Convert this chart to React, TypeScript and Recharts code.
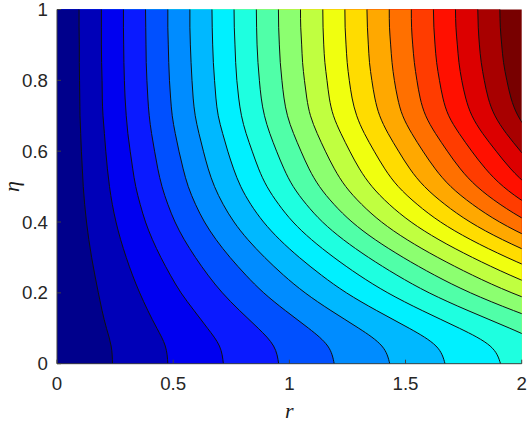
import { Area, AreaChart, CartesianGrid, XAxis, YAxis } from "recharts"

// eta position of each row below
const etaLevels = [0, 0.05, 0.1, 0.15, 0.2, 0.25, 0.3, 0.35, 0.4, 0.45, 0.5, 0.55, 0.6, 0.65, 0.7, 0.75, 0.8, 0.85, 0.9, 0.95, 1]

// r position of contours 1..20 at each eta (values past r = 2 run off the frame)
const rAt000 = [0.239, 0.477, 0.716, 0.954, 1.193, 1.432, 1.67, 1.909, 2.147, 2.386, 2.625, 2.863, 3.102, 3.34, 3.579, 3.818, 4.056, 4.295, 4.533, 4.772]
const rAt005 = [0.233, 0.466, 0.699, 0.932, 1.165, 1.398, 1.631, 1.864, 2.097, 2.33, 2.563, 2.796, 3.029, 3.262, 3.495, 3.728, 3.961, 4.194, 4.427, 4.66]
const rAt010 = [0.213, 0.43, 0.648, 0.866, 1.083, 1.299, 1.516, 1.732, 1.949, 2.165, 2.382, 2.598, 2.815, 3.031, 3.248, 3.464, 3.681, 3.897, 4.114, 4.33]
const rAt015 = [0.194, 0.391, 0.59, 0.786, 0.983, 1.179, 1.376, 1.572, 1.769, 1.965, 2.162, 2.358, 2.555, 2.751, 2.948, 3.144, 3.341, 3.537, 3.734, 3.93]
const rAt020 = [0.178, 0.356, 0.534, 0.712, 0.89, 1.068, 1.246, 1.424, 1.602, 1.78, 1.958, 2.136, 2.314, 2.492, 2.67, 2.848, 3.026, 3.204, 3.382, 3.56]
const rAt025 = [0.163, 0.325, 0.488, 0.65, 0.813, 0.975, 1.138, 1.3, 1.463, 1.625, 1.788, 1.95, 2.113, 2.275, 2.438, 2.6, 2.763, 2.925, 3.088, 3.25]
const rAt030 = [0.149, 0.298, 0.447, 0.596, 0.745, 0.894, 1.043, 1.192, 1.341, 1.49, 1.639, 1.788, 1.937, 2.086, 2.235, 2.384, 2.533, 2.682, 2.831, 2.98]
const rAt035 = [0.137, 0.274, 0.411, 0.548, 0.685, 0.822, 0.959, 1.096, 1.233, 1.37, 1.507, 1.644, 1.781, 1.918, 2.055, 2.192, 2.329, 2.466, 2.603, 2.74]
const rAt040 = [0.127, 0.254, 0.381, 0.508, 0.635, 0.762, 0.889, 1.016, 1.143, 1.27, 1.397, 1.524, 1.651, 1.778, 1.905, 2.032, 2.159, 2.286, 2.413, 2.54]
const rAt045 = [0.119, 0.238, 0.358, 0.477, 0.596, 0.715, 0.834, 0.954, 1.073, 1.192, 1.311, 1.43, 1.55, 1.669, 1.788, 1.907, 2.026, 2.146, 2.265, 2.384]
const rAt050 = [0.113, 0.226, 0.339, 0.452, 0.565, 0.678, 0.791, 0.904, 1.017, 1.13, 1.243, 1.356, 1.469, 1.582, 1.695, 1.808, 1.921, 2.034, 2.147, 2.26]
const rAt055 = [0.109, 0.217, 0.326, 0.434, 0.543, 0.651, 0.76, 0.868, 0.977, 1.085, 1.194, 1.302, 1.411, 1.519, 1.628, 1.736, 1.845, 1.953, 2.062, 2.17]
const rAt060 = [0.105, 0.21, 0.315, 0.42, 0.525, 0.63, 0.735, 0.84, 0.945, 1.05, 1.155, 1.26, 1.365, 1.47, 1.575, 1.68, 1.785, 1.89, 1.995, 2.1]
const rAt065 = [0.102, 0.204, 0.305, 0.407, 0.509, 0.611, 0.713, 0.814, 0.916, 1.018, 1.12, 1.222, 1.323, 1.425, 1.527, 1.629, 1.731, 1.832, 1.934, 2.036]
const rAt070 = [0.099, 0.198, 0.298, 0.397, 0.496, 0.595, 0.694, 0.794, 0.893, 0.992, 1.091, 1.19, 1.29, 1.389, 1.488, 1.587, 1.686, 1.786, 1.885, 1.984]
const rAt075 = [0.098, 0.195, 0.293, 0.391, 0.489, 0.586, 0.684, 0.782, 0.879, 0.977, 1.075, 1.172, 1.27, 1.368, 1.466, 1.563, 1.661, 1.759, 1.856, 1.954]
const rAt080 = [0.097, 0.194, 0.29, 0.387, 0.484, 0.581, 0.678, 0.774, 0.871, 0.968, 1.065, 1.162, 1.258, 1.355, 1.452, 1.549, 1.646, 1.742, 1.839, 1.936]
const rAt085 = [0.096, 0.192, 0.288, 0.384, 0.481, 0.577, 0.673, 0.769, 0.865, 0.961, 1.057, 1.153, 1.249, 1.345, 1.442, 1.538, 1.634, 1.73, 1.826, 1.922]
const rAt090 = [0.096, 0.191, 0.287, 0.383, 0.479, 0.574, 0.67, 0.766, 0.861, 0.957, 1.053, 1.148, 1.244, 1.34, 1.436, 1.531, 1.627, 1.723, 1.818, 1.914]
const rAt095 = [0.095, 0.191, 0.286, 0.382, 0.477, 0.572, 0.668, 0.763, 0.859, 0.954, 1.049, 1.145, 1.24, 1.336, 1.431, 1.526, 1.622, 1.717, 1.813, 1.908]
const rAt100 = [0.095, 0.191, 0.286, 0.381, 0.477, 0.572, 0.667, 0.762, 0.858, 0.953, 1.048, 1.144, 1.239, 1.334, 1.43, 1.525, 1.62, 1.715, 1.811, 1.906]

const rRows = [
  rAt000, rAt005, rAt010, rAt015, rAt020, rAt025, rAt030, rAt035, rAt040, rAt045, rAt050,
  rAt055, rAt060, rAt065, rAt070, rAt075, rAt080, rAt085, rAt090, rAt095, rAt100,
]

const rTicks = [0, 0.5, 1, 1.5, 2]
const etaTicks = [0, 0.2, 0.4, 0.6, 0.8, 1]

// band left of contour k, the last one is the band right of contour 20
const bandColors = [
  "#00008c", "#0000b8", "#0000f0", "#0a1aff", "#0050ff", "#008cff", "#00b8ff",
  "#00f0ff", "#1effe0", "#50ffa8", "#8cff70", "#c0ff40", "#f0ff0f", "#ffdc00",
  "#ffa800", "#ff7000", "#ff3c00", "#ff1000", "#dc0000", "#a80000", "#780000",
]

const data = etaLevels.map((eta, i) => {
  const row: Record<string, number> = { eta }
  rRows[i].forEach((r, k) => {
    row[`c${k + 1}`] = r
  })
  return row
})

// draw the outermost contour first so the lower bands sit on top
const contourKeys = rAt000.map((_, k) => k + 1).reverse()

const tickStyle = { fill: "#262626", fontSize: 18.7, fontFamily: "Liberation Sans, Arial, sans-serif" }
const labelStyle = { fontFamily: "Liberation Serif, serif", fontStyle: "italic", fontSize: 22, fill: "#1a1a1a" }
const frame = "#404040"

export default function App() {
  return (
    <div style={{ position: "absolute", left: 0, top: 0 }}>
      <AreaChart
        width={529}
        height={422}
        data={data}
        layout="vertical"
        margin={{ top: 9.5, right: 7.3, left: 0, bottom: 0 }}
      >
        <CartesianGrid horizontal={false} vertical={false} fill={bandColors[20]} fillOpacity={1} />
        {contourKeys.map((k) => (
          <Area
            key={k}
            type="natural"
            dataKey={`c${k}`}
            stroke="#101010"
            strokeWidth={1}
            fill={bandColors[k - 1]}
            fillOpacity={1}
            dot={false}
            activeDot={false}
            isAnimationActive={false}
          />
        ))}
        <XAxis
          type="number"
          domain={[0, 2]}
          ticks={rTicks}
          allowDataOverflow
          height={58.3}
          stroke={frame}
          tickSize={-4}
          tickMargin={17}
          tick={tickStyle}
          interval={0}
          label={{ value: "r", position: "insideBottom", offset: 4, style: labelStyle }}
        />
        <YAxis
          type="number"
          dataKey="eta"
          reversed
          domain={[0, 1]}
          ticks={etaTicks}
          width={57}
          stroke={frame}
          tickSize={-4}
          tickMargin={13}
          tick={tickStyle}
          interval={0}
          label={{ value: "η", angle: -90, position: "insideLeft", offset: 11, textAnchor: "middle", style: labelStyle }}
        />
        <XAxis
          xAxisId="top"
          orientation="top"
          type="number"
          domain={[0, 2]}
          ticks={rTicks}
          height={0}
          mirror
          stroke={frame}
          tickSize={4}
          tick={false}
          interval={0}
        />
        <YAxis
          yAxisId="right"
          orientation="right"
          type="number"
          dataKey="eta"
          reversed
          domain={[0, 1]}
          ticks={etaTicks}
          width={0}
          mirror
          stroke={frame}
          tickSize={4}
          tick={false}
          interval={0}
        />
      </AreaChart>
    </div>
  )
}
